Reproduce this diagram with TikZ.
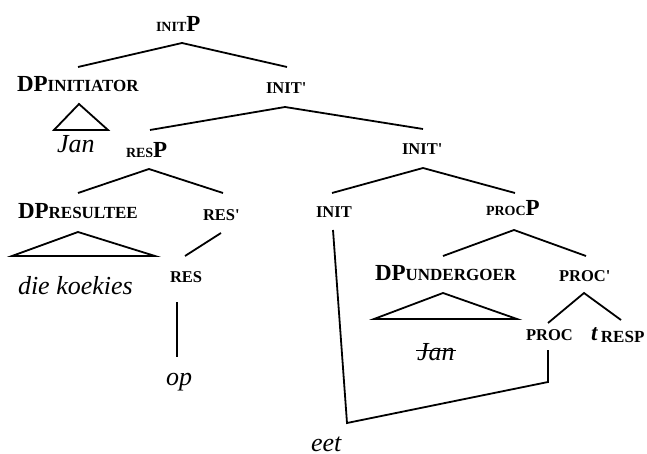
\documentclass[tikz,border=0pt]{standalone}
\usepackage{fontspec}
\setmainfont{Liberation Serif}[Ligatures=TeXOff]
% fake small capitals for category prefixes
\newcommand\smc[1]{{\fontsize{14bp}{15bp}\selectfont #1}}
\newcommand\sub[1]{{\fontsize{17bp}{18bp}\selectfont #1}}
\newcommand\prm{'}
\tikzset{
  tx/.style={inner sep=0pt, outer sep=0pt, anchor=base west},
  phr/.style={tx, font=\bfseries\fontsize{23bp}{24bp}\selectfont},
  hd/.style={tx, font=\bfseries\fontsize{16.5bp}{17bp}\selectfont},
  wd/.style={tx, font=\itshape\fontsize{26bp}{27bp}\selectfont},
  br/.style={line width=1.8bp},
}
\begin{document}
\begin{tikzpicture}[x=1bp, y=-1bp]
\useasboundingbox (0,0) rectangle (647,454);

% labels
\node[phr] (initP) at (156,32) {\smc{INIT}P};
\node[phr] (dpini) at (17,92) {DP\sub{INITIATOR}};
\node[wd]  (jan1)  at (57,153) {Jan};
\node[hd]  (initb1) at (266,94) {INIT\prm};
\node[phr] (resP)  at (126,158) {\smc{RES}P};
\node[hd]  (initb2) at (402,155) {INIT\prm};
\node[phr] (dpres) at (18,219) {DP\sub{RESULTEE}};
\node[hd]  (resb)  at (203,221) {RES\prm};
\node[hd]  (init)  at (316,218) {INIT};
\node[phr] (procP) at (486,216) {\smc{PROC}P};
\node[wd]  (dk)    at (18,295) {die koekies};
\node[hd]  (res)   at (170,283) {RES};
\node[phr] (dpund) at (375,281) {DP\sub{UNDERGOER}};
\node[hd]  (procb) at (559,282) {PROC\prm};
\node[hd]  (proc)  at (526,340) {PROC};
\node[phr] (tresp) at (591,340) {\textit{t}\hspace{3bp}\raisebox{-2bp}{\sub{RESP}}};
\node[wd]  (jan2)  at (417,360) {Jan};
\node[wd]  (op)    at (166,385) {op};
\node[wd]  (eet)   at (311,451) {eet};

% branch points
\coordinate (initP-a) at (182,43);
\coordinate (dpini-t) at (78,67);
\coordinate (initb1-t) at (287,67);
\coordinate (initb1-a) at (285,107);
\coordinate (resP-t) at (150,130);
\coordinate (initb2-t) at (423,129);
\coordinate (resP-a) at (149,169);
\coordinate (dpres-t) at (78,193);
\coordinate (resb-t) at (223,193);
\coordinate (initb2-a) at (423,168);
\coordinate (init-t) at (332,193);
\coordinate (procP-t) at (515,193);
\coordinate (resb-a) at (221,233);
\coordinate (res-t) at (185,256);
\coordinate (procP-a) at (514,230);
\coordinate (dpund-t) at (443,256);
\coordinate (procb-t) at (586,256);
\coordinate (procb-a) at (584,293);
\coordinate (proc-t) at (548,323);
\coordinate (tresp-t) at (621,320);
\coordinate (res-b) at (177,302);
\coordinate (op-t) at (177,357);
\coordinate (init-b) at (333,230);
\coordinate (eet-c) at (347,423);
\coordinate (proc-c) at (548,382);
\coordinate (proc-b) at (548,350);

% tree branches
\draw[br] (dpini-t) -- (initP-a) -- (initb1-t);
\draw[br] (resP-t) -- (initb1-a) -- (initb2-t);
\draw[br] (dpres-t) -- (resP-a) -- (resb-t);
\draw[br] (init-t) -- (initb2-a) -- (procP-t);
\draw[br] (resb-a) -- (res-t);
\draw[br] (dpund-t) -- (procP-a) -- (procb-t);
\draw[br] (proc-t) -- (procb-a) -- (tresp-t);
\draw[br] (res-b) -- (op-t);
\draw[br] (init-b) -- (eet-c) -- (proc-c) -- (proc-b);

% phrase triangles
\draw[br] (79,104) -- (54,130) -- (108,130) -- cycle;
\draw[br] (78,232) -- (12,256) -- (155,256) -- cycle;
\draw[br] (443,293) -- (374,319) -- (517,319) -- cycle;

% deleted copy
\draw[line width=1.3bp] ([xshift=-1bp,yshift=1bp]jan2.west) -- ([xshift=1bp,yshift=1bp]jan2.east);
\end{tikzpicture}
\end{document}
